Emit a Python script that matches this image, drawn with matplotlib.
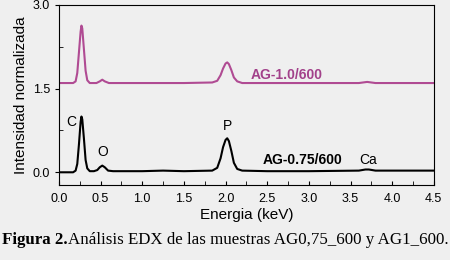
import matplotlib.pyplot as plt
from matplotlib.ticker import MultipleLocator

# energia (keV) e intensidad
energia_075 = [0.0, 0.17, 0.20, 0.22, 0.24, 0.26, 0.27, 0.28, 0.30, 0.32, 0.34, 0.37, 0.42, 0.46,
               0.49, 0.52, 0.55, 0.59, 0.65, 1.0, 1.25, 1.5, 1.84, 1.90, 1.94, 1.97, 2.00, 2.02,
               2.04, 2.07, 2.10, 2.14, 2.20, 2.5, 3.0, 3.6, 3.68, 3.72, 3.8, 4.5]
intens_075 = [0.0, 0.0, 0.03, 0.15, 0.5, 0.9, 1.0, 0.95, 0.6, 0.22, 0.07, 0.02, 0.02, 0.04,
              0.09, 0.12, 0.09, 0.03, 0.02, 0.02, 0.03, 0.02, 0.03, 0.08, 0.25, 0.45, 0.58, 0.61,
              0.56, 0.38, 0.17, 0.06, 0.03, 0.02, 0.02, 0.03, 0.05, 0.05, 0.03, 0.03]

energia_10 = [0.0, 0.17, 0.20, 0.22, 0.24, 0.26, 0.27, 0.28, 0.30, 0.32, 0.34, 0.37, 0.45, 0.49,
              0.52, 0.55, 0.6, 1.5, 1.84, 1.90, 1.94, 1.97, 2.00, 2.02, 2.04, 2.07, 2.10, 2.14,
              2.2, 3.6, 3.7, 3.8, 4.5]
intens_10 = [1.60, 1.60, 1.63, 1.78, 2.15, 2.52, 2.63, 2.58, 2.2, 1.82, 1.65, 1.60, 1.60, 1.63,
             1.66, 1.63, 1.60, 1.60, 1.61, 1.64, 1.74, 1.86, 1.95, 1.97, 1.94, 1.83, 1.70, 1.63,
             1.60, 1.60, 1.62, 1.60, 1.60]

elementos = ['C', 'O', 'P', 'Ca']
pos_elem = [(0.15, 0.9), (0.52, 0.36), (2.02, 0.83), (3.71, 0.22)]

plt.rcParams['font.family'] = ['Liberation Sans', 'DejaVu Sans']
fondo = '#efefef'
rosa = '#b04b93'

fig = plt.figure(figsize=(4.5, 2.6), dpi=100, facecolor=fondo)
ax = fig.add_axes([0.131, 0.288, 0.833, 0.693])
ax.set_facecolor(fondo)

ax.plot(energia_075, intens_075, color='black', lw=1.5)
ax.plot(energia_10, intens_10, color=rosa, lw=1.5)

for e, (x, y) in zip(elementos, pos_elem):
    ax.text(x, y, e, fontsize=10, ha='center', va='center')
ax.text(2.45, 0.22, 'AG-0.75/600', fontsize=10, fontweight='bold', va='center')
ax.text(2.30, 1.75, 'AG-1.0/600', fontsize=10, fontweight='bold', va='center', color='#a2418a')

ax.set_xlim(0, 4.5)
ax.set_ylim(-0.23, 3.0)
ax.xaxis.set_major_locator(MultipleLocator(0.5))
ax.xaxis.set_minor_locator(MultipleLocator(0.25))
ax.yaxis.set_major_locator(MultipleLocator(1.5))
ax.yaxis.set_minor_locator(MultipleLocator(0.75))
ax.tick_params(axis='x', which='both', direction='in', length=3, labelsize=9, pad=6)
ax.tick_params(axis='y', which='major', direction='out', length=3, labelsize=9)
ax.tick_params(axis='y', which='minor', direction='in', length=3)
ax.yaxis.set_major_formatter(plt.FormatStrFormatter('%.1f'))
ax.xaxis.set_major_formatter(plt.FormatStrFormatter('%.1f'))

ax.set_xlabel('Energia (keV)', fontsize=11, labelpad=2)
ax.set_ylabel('Intensidad normalizada', fontsize=11, labelpad=3)

# pie de figura: parte en negrita + parte normal
t1 = fig.text(0.0, 0.077, 'Figura 2.', ha='left', va='center', fontsize=12.2,
              family='Liberation Serif', fontweight='bold')
t2 = fig.text(0.0, 0.077, 'Análisis EDX de las muestras AG0,75_600 y AG1_600.', ha='left',
              va='center', fontsize=12.2, family='Liberation Serif')
r = fig.canvas.get_renderer()
w1 = t1.get_window_extent(r).width
w2 = t2.get_window_extent(r).width
x0 = (450 - w1 - w2) / 2
t1.set_x(x0 / 450)
t2.set_x((x0 + w1) / 450)

fig.savefig('out.png', dpi=100, facecolor=fondo)
